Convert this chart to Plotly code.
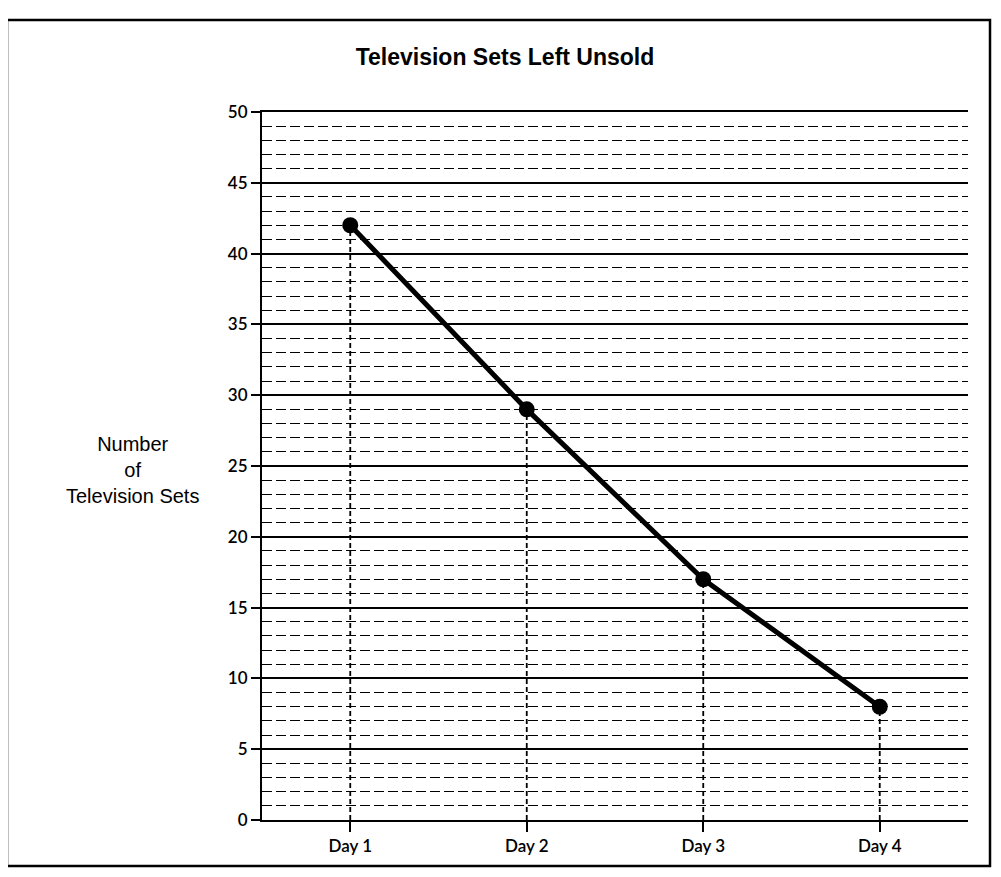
import plotly.graph_objects as go

days = ["Day 1", "Day 2", "Day 3", "Day 4"]
sets_unsold = [42, 29, 17, 8]
y_ticks = [0, 5, 10, 15, 20, 25, 30, 35, 40, 45, 50]

W, H = 1001, 877
OFF = 8  # page body margin
L, R, T, B = 262 - OFF, 1001 - 968 + OFF, 112 - OFF, 877 - 820 + OFF
pw, ph = W - L - R, H - T - B

def px_x(p):
    return (p - OFF - L) / pw

def px_y(p):
    return (H - B - (p - OFF)) / ph

fig = go.Figure()

# drop lines from each point to the axis
for d, v in zip(days, sets_unsold):
    fig.add_trace(go.Scatter(
        x=[d, d], y=[0, v], mode="lines",
        line=dict(color="black", width=1.8, dash="5px,3px"),
        hoverinfo="skip", showlegend=False))

fig.add_trace(go.Scatter(
    x=days, y=sets_unsold, mode="lines+markers",
    line=dict(color="black", width=5),
    marker=dict(color="black", size=16),
    showlegend=False))

fig.update_layout(
    width=W, height=H,
    margin=dict(l=L, r=R, t=T, b=B),
    paper_bgcolor="white", plot_bgcolor="white",
    title=dict(text="<b>Television Sets Left Unsold</b>",
               x=px_x(505), xref="paper", xanchor="center",
               y=1 - (57 - OFF) / H, yanchor="middle",
               font=dict(family="Liberation Sans Narrow, Arial Narrow, Liberation Sans", size=23, color="black")),
    xaxis=dict(
        type="category", range=[-0.5, 3.5],
        showgrid=False, zeroline=False,
        showline=True, mirror=True, linecolor="black", linewidth=2,
        ticks="outside", ticklen=10, tickwidth=1.5, tickcolor="black",
        tickfont=dict(family="Lato, Open Sans", size=17, color="black", weight=600),
    ),
    yaxis=dict(
        range=[0, 50], tickvals=y_ticks,
        showline=True, linecolor="black", linewidth=2,
        showgrid=True, gridcolor="black", gridwidth=2,
        zeroline=True, zerolinecolor="black", zerolinewidth=2,
        ticks="outside", ticklen=9, tickwidth=1.5, tickcolor="black",
        tickfont=dict(family="Lato, Open Sans", size=17, color="black", weight=600),
        minor=dict(dtick=1, showgrid=True, gridcolor="black",
                   gridwidth=1.2, griddash="10px,4px"),
    ),
    annotations=[dict(
        text="Number<br>of<br>Television Sets",
        x=px_x(132), y=px_y(470), xref="paper", yref="paper",
        xanchor="center", yanchor="middle", showarrow=False, align="center",
        font=dict(family="Liberation Sans, Arial", size=20, color="black"))],
    shapes=[dict(type="rect", xref="paper", yref="paper",
                 x0=px_x(7), x1=px_x(990), y0=px_y(866), y1=px_y(20),
                 line=dict(color="black", width=2.5))],
)

fig.write_html("out.html")
